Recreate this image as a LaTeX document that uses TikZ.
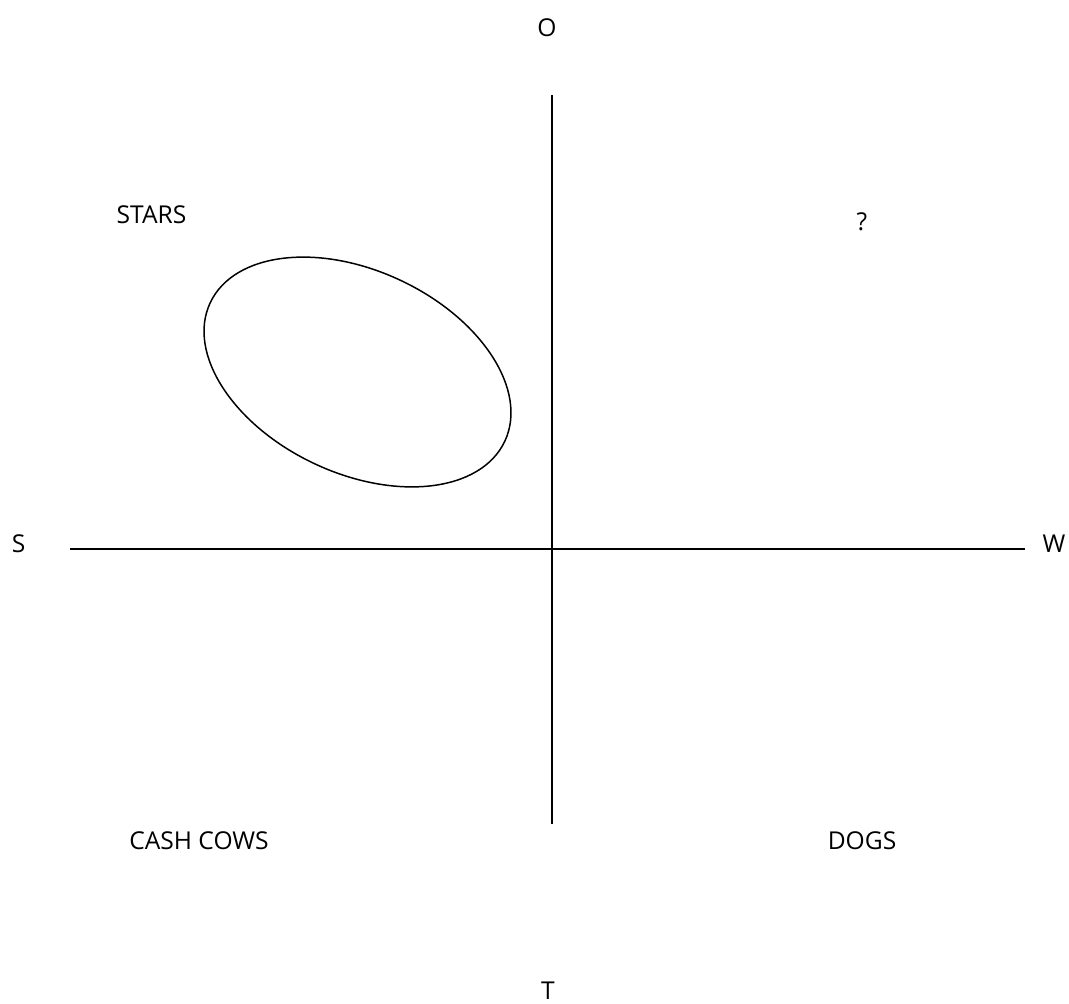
\documentclass[tikz,border=0pt]{standalone}
\usepackage{fontspec}
\setmainfont{Open Sans}
\usetikzlibrary{positioning}

\begin{document}
\begin{tikzpicture}[
  x=0.02cm, y=-0.02cm,
  lbl/.style={font=\fontsize{14}{16}\selectfont, inner sep=0pt, anchor=base},
  axisline/.style={line width=1.1pt, draw=black},
  blob/.style={line width=0.85pt, draw=black}
]
  \useasboundingbox (0,0) rectangle (1069,1004);

  % axis ends
  \coordinate (west) at (70,549);
  \coordinate (east) at (1025,549);
  \coordinate (north) at (552,95);
  \coordinate (south) at (552,824);

  \draw[axisline] (west) -- (east);
  \draw[axisline] (north) -- (south);

  % axis labels
  \node[lbl] (o) at (547,36) {O};
  \node[lbl] (s) at (18.5,552) {S};
  \node[lbl] (w) at (1054,552) {W};
  \node[lbl] (t) at (548,999) {T};

  % quadrant labels
  \node[lbl] (stars) at (151.5,223) {STARS};
  \node[lbl] (question) at (862,230) {?};
  \node[lbl] (cows) at (199,849) {CASH COWS};
  \node[lbl] (dogs) at (862,849) {DOGS};

  \draw[blob, rotate around={-25.2:(357.5,372)}] (357.5,372) ellipse [x radius=3.256cm, y radius=2.026cm];

\end{tikzpicture}
\end{document}
